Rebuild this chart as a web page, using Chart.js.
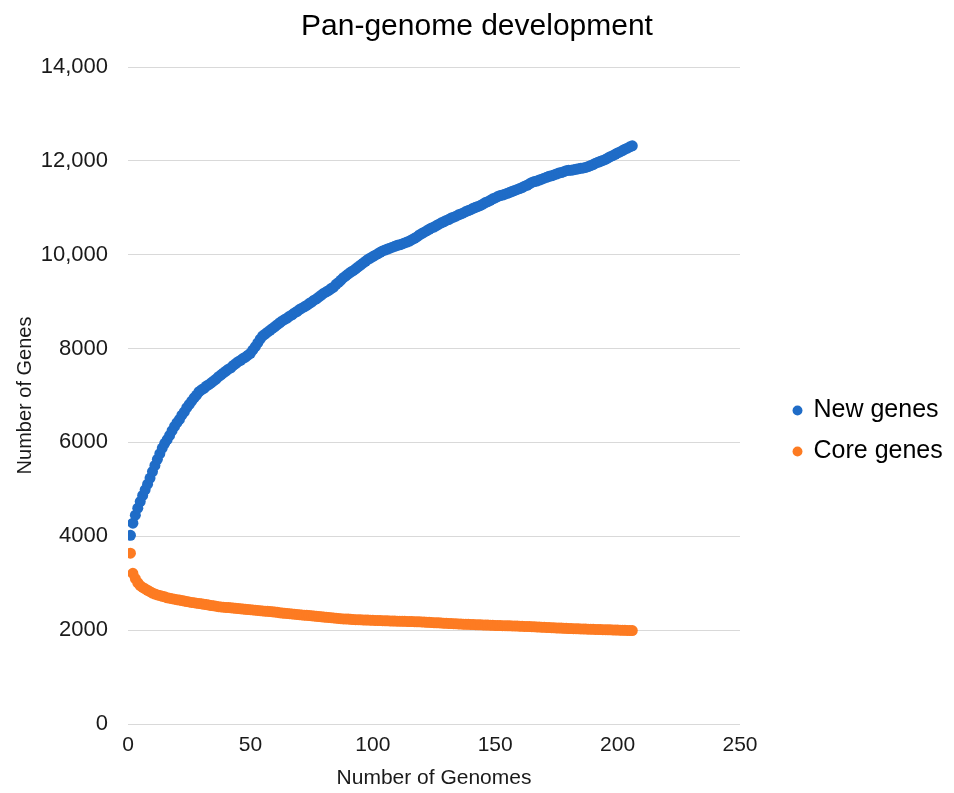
<!DOCTYPE html>
<html>
<head>
<meta charset="utf-8">
<title>Pan-genome development</title>
<script src="https://cdn.jsdelivr.net/npm/chart.js@4.4.1/dist/chart.umd.min.js"></script>
<style>
  html, body { margin: 0; padding: 0; background: #ffffff; }
  #wrap { width: 954px; height: 793px; }
</style>
</head>
<body>
<div id="wrap"><canvas id="chart" width="954" height="793"></canvas></div>
<script>
// Pan-genome size ("New genes") as genomes are added, one value per genome count (1, 2, 3, ...)
const newGenes = [
  4020, 4280, 4450, 4600, 4740, 4870, 4990, 5110, 5240, 5380,
  5510, 5640, 5760, 5880, 5980, 6060, 6150, 6250, 6340, 6420,
  6490, 6580, 6650, 6740, 6810, 6880, 6950, 7010, 7080, 7120,
  7150, 7200, 7230, 7270, 7310, 7350, 7400, 7440, 7480, 7520,
  7560, 7590, 7640, 7680, 7720, 7750, 7790, 7820, 7860, 7900,
  7970, 8040, 8120, 8200, 8270, 8310, 8350, 8390, 8430, 8470,
  8510, 8550, 8590, 8620, 8650, 8690, 8720, 8760, 8790, 8830,
  8860, 8890, 8920, 8960, 8990, 9030, 9060, 9100, 9140, 9180,
  9210, 9240, 9280, 9310, 9370, 9410, 9460, 9510, 9550, 9590,
  9630, 9660, 9700, 9740, 9780, 9820, 9860, 9900, 9930, 9960,
  9990, 10020, 10050, 10080, 10100, 10120, 10140, 10160, 10180, 10200,
  10210, 10230, 10250, 10270, 10290, 10320, 10350, 10380, 10420, 10450,
  10480, 10510, 10540, 10570, 10590, 10620, 10650, 10680, 10700, 10730,
  10750, 10780, 10800, 10820, 10850, 10870, 10890, 10920, 10940, 10960,
  10990, 11010, 11030, 11050, 11080, 11110, 11130, 11160, 11190, 11210,
  11240, 11260, 11270, 11290, 11310, 11330, 11350, 11370, 11390, 11410,
  11430, 11460, 11480, 11510, 11540, 11560, 11570, 11590, 11610, 11630,
  11650, 11670, 11680, 11700, 11720, 11740, 11750, 11770, 11790, 11800,
  11800, 11810, 11820, 11830, 11840, 11850, 11860, 11880, 11900, 11920,
  11950, 11970, 11990, 12010, 12030, 12060, 12090, 12110, 12140, 12170,
  12190, 12220, 12250, 12270, 12300, 12320
];

// Core genome size ("Core genes") for the same genome counts
const coreGenes = [
  3640, 3210, 3100, 3010, 2950, 2910, 2880, 2850, 2820, 2790,
  2770, 2750, 2740, 2720, 2710, 2690, 2680, 2670, 2660, 2650,
  2640, 2630, 2620, 2610, 2600, 2590, 2585, 2575, 2570, 2560,
  2550, 2545, 2535, 2525, 2520, 2510, 2500, 2495, 2490, 2485,
  2480, 2475, 2470, 2465, 2460, 2455, 2450, 2445, 2440, 2435,
  2430, 2425, 2420, 2415, 2410, 2405, 2400, 2395, 2390, 2385,
  2380, 2370, 2365, 2360, 2355, 2350, 2345, 2340, 2335, 2330,
  2325, 2320, 2315, 2310, 2305, 2300, 2295, 2290, 2285, 2280,
  2275, 2270, 2265, 2260, 2255, 2250, 2245, 2240, 2238, 2235,
  2230, 2227, 2224, 2222, 2220, 2218, 2216, 2214, 2212, 2210,
  2208, 2206, 2204, 2202, 2200, 2199, 2197, 2195, 2194, 2192,
  2190, 2189, 2187, 2185, 2184, 2182, 2180, 2179, 2177, 2174,
  2171, 2168, 2166, 2163, 2160, 2157, 2155, 2152, 2149, 2146,
  2143, 2140, 2138, 2135, 2132, 2130, 2127, 2125, 2123, 2121,
  2119, 2117, 2115, 2113, 2111, 2109, 2107, 2105, 2103, 2101,
  2099, 2097, 2095, 2094, 2093, 2092, 2090, 2089, 2087, 2085,
  2083, 2080, 2078, 2075, 2073, 2070, 2068, 2065, 2063, 2060,
  2058, 2055, 2053, 2050, 2048, 2045, 2043, 2040, 2038, 2035,
  2033, 2031, 2030, 2028, 2026, 2025, 2023, 2021, 2020, 2018,
  2016, 2015, 2013, 2011, 2010, 2008, 2006, 2005, 2003, 2001,
  2000, 1998, 1996, 1995, 1993, 1992
];

// Number of genomes sampled for each point
const genomeCounts = newGenes.map((_, i) => i + 1);

// Axis ticks
const yTickValues = [0, 2000, 4000, 6000, 8000, 10000, 12000, 14000];
const yTickLabels = ['0', '2000', '4000', '6000', '8000', '10,000', '12,000', '14,000'];
const xTickValues = [0, 50, 100, 150, 200, 250];

const seriesNames = ['New genes', 'Core genes'];
const seriesColors = ['#1f6cc7', '#fd7b22'];

const FONT = "'Liberation Sans', Arial, Helvetica, sans-serif";
const TEXT = '#1a1a1a';

// Puts the legend block beside the plot, with a gap after the last x tick
const legendPlacement = {
  id: 'legendPlacement',
  afterLayout(chart) {
    const lg = chart.legend;
    if (!lg) return;
    const left = 778, top = 382;
    const w = lg.width, h = lg.height;
    lg.left = left; lg.right = left + w;
    lg.top = top; lg.bottom = top + h;
  }
};

const toPoints = (ys) => ys.map((y, i) => ({ x: genomeCounts[i], y }));

new Chart(document.getElementById('chart'), {
  type: 'scatter',
  data: {
    datasets: [
      {
        label: seriesNames[0],
        data: toPoints(newGenes),
        backgroundColor: seriesColors[0],
        borderColor: seriesColors[0],
        borderWidth: 0,
        pointRadius: 5.5,
        pointHoverRadius: 5.5
      },
      {
        label: seriesNames[1],
        data: toPoints(coreGenes),
        backgroundColor: seriesColors[1],
        borderColor: seriesColors[1],
        borderWidth: 0,
        pointRadius: 5.5,
        pointHoverRadius: 5.5
      }
    ]
  },
  options: {
    responsive: false,
    animation: false,
    layout: { padding: 0 },
    plugins: {
      title: {
        display: true,
        text: 'Pan-genome development',
        color: '#000000',
        font: { family: FONT, size: 30, weight: 'normal' },
        padding: { top: 9, bottom: 22 }
      },
      legend: {
        display: true,
        position: 'right',
        align: 'start',
        labels: {
          usePointStyle: true,
          pointStyle: 'circle',
          boxWidth: 7,
          boxHeight: 7,
          padding: 16,
          color: '#000000',
          font: { family: FONT, size: 25 }
        }
      },
      tooltip: { enabled: false }
    },
    scales: {
      x: {
        type: 'linear',
        min: 0,
        max: 250,
        afterBuildTicks(scale) {
          scale.ticks = xTickValues.map(v => ({ value: v }));
        },
        afterFit(scale) {
          scale.height = 69;
          scale.paddingRight = 214;
        },
        grid: { display: false, drawTicks: false },
        border: { display: false },
        ticks: {
          color: TEXT,
          padding: 9,
          font: { family: FONT, size: 21 }
        },
        title: {
          display: true,
          text: 'Number of Genomes',
          color: TEXT,
          font: { family: FONT, size: 21 },
          padding: { top: 0, bottom: 2 }
        }
      },
      y: {
        type: 'linear',
        min: 0,
        max: 14000,
        afterBuildTicks(scale) {
          scale.ticks = yTickValues.map(v => ({ value: v }));
        },
        afterFit(scale) {
          scale.width = 128;
        },
        grid: { display: true, drawTicks: false, color: '#d9d9d9', lineWidth: 1 },
        border: { display: false },
        ticks: {
          color: TEXT,
          padding: 20,
          font: { family: FONT, size: 22 },
          callback: (v) => yTickLabels[yTickValues.indexOf(v)]
        },
        title: {
          display: true,
          text: 'Number of Genes',
          color: TEXT,
          font: { family: FONT, size: 20 },
          padding: { top: 13, bottom: 0 }
        }
      }
    }
  },
  plugins: [legendPlacement]
});
</script>
</body>
</html>
